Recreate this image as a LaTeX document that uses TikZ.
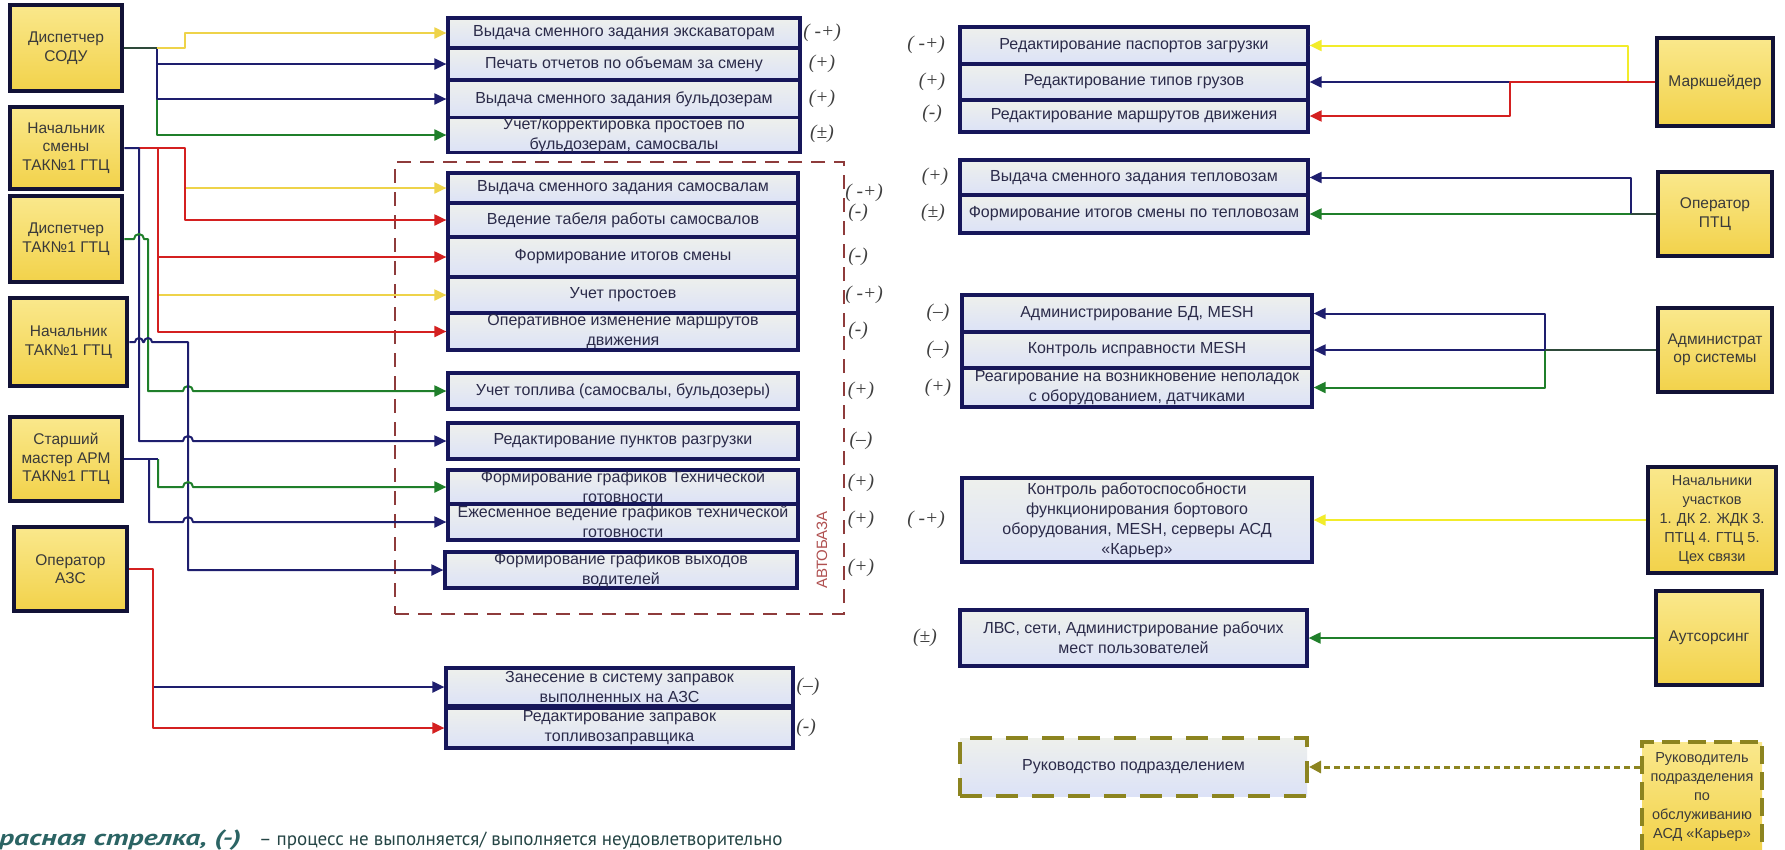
\documentclass[tikz,border=0pt]{standalone}
\usepackage{fontspec}
\setmainfont{Liberation Sans}
\newfontfamily\labfont{Liberation Serif}
\newfontfamily\legfont{PT Sans}
\usetikzlibrary{arrows.meta}
\definecolor{cnavy}{HTML}{1E1E6E}
\definecolor{cred}{HTML}{D42020}
\definecolor{cgreen}{HTML}{1F7F2A}
\definecolor{cyel}{HTML}{EED34A}
\definecolor{cyelb}{HTML}{F2EC2A}
\definecolor{ctrunk}{HTML}{2E4A3A}
\definecolor{cbox}{HTML}{DCE2F7}
\definecolor{cboxt}{HTML}{EEF0EC}
\definecolor{cboxb}{HTML}{16165A}
\definecolor{cact}{HTML}{F2D24A}
\definecolor{cactt}{HTML}{FAE88C}
\definecolor{cactb}{HTML}{121236}
\definecolor{cacttx}{HTML}{3A3A3A}
\definecolor{ctext}{HTML}{2B2B4A}
\definecolor{cbrown}{HTML}{8E3B3B}
\definecolor{cbrownt}{HTML}{B05050}
\definecolor{colive}{HTML}{8C8420}
\definecolor{cteal}{HTML}{2B6464}
\definecolor{cteal2}{HTML}{254545}
\definecolor{clab}{HTML}{404040}
\tikzset{
  proc/.style={draw=cboxb, line width=3.2pt, top color=cboxt, bottom color=cbox, text=ctext, font=\fontsize{16}{20}\selectfont, align=center, inner sep=0pt},
  actor/.style={draw=cactb, line width=4.5pt, top color=cactt, bottom color=cact, text=cacttx, font=\fontsize{15.5}{18.5}\selectfont, align=center, inner sep=0pt},
  labst/.style={font=\labfont\itshape\fontsize{19.5}{21}\selectfont, text=clab, inner sep=0pt},
  ln/.style={line width=2pt, -{Triangle[length=12pt,width=11pt]}, line join=round},
  seg/.style={line width=2pt, line join=round},
}
\newcommand{\pbox}[6]{\node[proc, minimum width={(#4)-(#2)}, minimum height={(#5)-(#3)}] (#1) at ({((#2)+(#4))/2},{((#3)+(#5))/2}) {#6};}
\newcommand{\abox}[6]{\node[actor, minimum width={(#4)-(#2)}, minimum height={(#5)-(#3)}] (#1) at ({((#2)+(#4))/2},{((#3)+(#5))/2}) {#6};}
\newcommand{\lab}[4]{\node[labst] (#1) at (#2,#3) {#4};}
\begin{document}
\begin{tikzpicture}[x=1pt,y=-1pt]
\useasboundingbox (0,0) rectangle (1785,849);
\fill[white] (0,0) rectangle (1785,849);

% АВТОБАЗА group
\node[draw=cbrown, line width=2.5pt, dash pattern=on 14pt off 9pt, minimum width=449, minimum height=452, inner sep=0pt] (avtobaza) at (619.5,388) {};
\node[rotate=90, text=cbrownt, font=\fontsize{15}{15}\selectfont, inner sep=0pt] (avttext) at (822,550) {АВТОБАЗА};

% left actors
\abox{sodu}{10}{5}{122}{91}{Диспетчер\\СОДУ}
\abox{ns}{10}{107}{122}{189}{Начальник\\смены\\ТАК№1 ГТЦ}
\abox{dt}{10}{196}{122}{282}{Диспетчер\\ТАК№1 ГТЦ}
\abox{nt}{10}{298}{127}{386}{Начальник\\ТАК№1 ГТЦ}
\abox{sm}{10}{417}{122}{501}{Старший\\мастер АРМ\\ТАК№1 ГТЦ}
\abox{azs}{14}{527}{127}{611}{Оператор\\АЗС}

% right actors
\abox{mk}{1657}{38}{1773}{126}{Маркшейдер}
\abox{ptc}{1658}{172}{1772}{256}{Оператор\\ПТЦ}
\abox{adm}{1658}{308}{1772}{392}{Администрат\\ор системы}
\node[actor, font=\fontsize{14.5}{19}\selectfont, minimum width=128, minimum height=106] (nu) at (1712,520) {Начальники\\участков\\1. ДК 2. ЖДК 3.\\ПТЦ 4. ГТЦ 5.\\Цех связи};
\abox{auts}{1656}{591}{1762}{685}{Аутсорсинг}
\node[actor, draw=colive, dash pattern=on 18pt off 8pt, font=\fontsize{14.5}{19}\selectfont, minimum width=120, minimum height=110] (ruk) at (1702,797) {Руководитель\\подразделения\\по\\обслуживанию\\АСД «Карьер»};

% left process boxes
\pbox{A1}{448}{18}{800}{48}{Выдача сменного задания экскаваторам}
\pbox{A2}{448}{48}{800}{80}{Печать отчетов по объемам за смену}
\pbox{A3}{448}{80}{800}{118}{Выдача сменного задания бульдозерам}
\pbox{A4}{448}{118}{800}{152}{Учет/корректировка простоев по\\бульдозерам, самосвалы}
\pbox{B1}{448}{173}{798}{203}{Выдача сменного задания самосвалам}
\pbox{B2}{448}{203}{798}{237}{Ведение табеля работы самосвалов}
\pbox{B3}{448}{237}{798}{277}{Формирование итогов смены}
\pbox{B4}{448}{277}{798}{313}{Учет простоев}
\pbox{B5}{448}{313}{798}{350}{Оперативное изменение маршрутов\\движения}
\pbox{B6}{448}{373}{798}{409}{Учет топлива (самосвалы, бульдозеры)}
\pbox{B7}{448}{423}{798}{459}{Редактирование пунктов разгрузки}
\pbox{B8}{448}{470}{798}{504}{Формирование графиков Технической\\готовности}
\pbox{B9}{448}{504}{798}{540}{Ежесменное ведение графиков технической\\готовности}
\pbox{B10}{445}{552}{797}{588}{Формирование графиков выходов\\водителей}
\pbox{C1}{446}{668}{793}{706}{Занесение в систему заправок\\выполненных на АЗС}
\pbox{C2}{446}{708}{793}{748}{Редактирование заправок\\топливозаправщика}

% right process boxes
\pbox{D1}{960}{27}{1308}{64}{Редактирование паспортов загрузки}
\pbox{D2}{960}{64}{1308}{100}{Редактирование типов грузов}
\pbox{D3}{960}{100}{1308}{132}{Редактирование маршрутов движения}
\pbox{E1}{960}{160}{1308}{195}{Выдача сменного задания тепловозам}
\pbox{E2}{960}{195}{1308}{233}{Формирование итогов смены по тепловозам}
\pbox{F1}{962}{295}{1312}{332}{Администрирование БД, MESH}
\pbox{F2}{962}{332}{1312}{368}{Контроль исправности MESH}
\pbox{F3}{962}{368}{1312}{407}{Реагирование на возникновение неполадок\\с оборудованием, датчиками}
\pbox{G}{962}{478}{1312}{562}{Контроль работоспособности\\функционирования бортового\\оборудования, MESH, серверы АСД\\«Карьер»}
\pbox{H}{960}{610}{1307}{666}{ЛВС, сети, Администрирование рабочих\\мест пользователей}
\node[proc, draw=colive, line width=4pt, dash pattern=on 22pt off 14pt, minimum width=347, minimum height=58] (I) at (1133.5,767) {Руководство подразделением};

% ---- connectors, left ----
\coordinate (s1) at (157,48);
\draw[ln,cgreen] (s1) |- (A4.west);
\draw[ln,cnavy] (s1) |- (A3.west);
\draw[ln,cnavy] (s1) |- (A2.west);
\draw[ln,cyel] (s1) -- (185,48) |- (A1.west);
\draw[seg,ctrunk] (sodu.east) -- (s1);

\coordinate (n1) at (139,148);
\coordinate (n2) at (158,148);
\coordinate (n3) at (185,148);
\draw[ln,cyel] (n3) |- (B1.west);
\draw[ln,cred] (n1) -- (n3) |- (B2.west);
\draw[ln,cyel] (n2) |- (B4.west);
\draw[ln,cred] (n2) |- (B3.west);
\draw[ln,cred] (n2) |- (B5.west);
\draw[ln,cnavy] (ns.east) -- (n1) -- (139,441) -- (183,441) arc[start angle=180,end angle=360,radius=5] -- (B7.west);

\draw[ln,cgreen] (dt.east) -- (134,239) arc[start angle=180,end angle=360,radius=5] -- (148,239) -- (148,391) -- (183,391) arc[start angle=180,end angle=360,radius=5] -- (B6.west);

\draw[ln,cnavy] (nt.east) -- (135,342) arc[start angle=180,end angle=360,radius=4] -- (144,342) arc[start angle=180,end angle=360,radius=4] -- (188,342) -- (188,570) -- (B10.west);

\coordinate (m1) at (149,459);
\coordinate (m2) at (158,459);
\draw[ln,cgreen] (m2) -- (158,487) -- (183,487) arc[start angle=180,end angle=360,radius=5] -- (B8.west);
\draw[ln,cnavy] (m1) -- (149,522) -- (183,522) arc[start angle=180,end angle=360,radius=5] -- (B9.west);
\draw[seg,cnavy] (sm.east) -- (m2);

\coordinate (z1) at (153,569);
\draw[ln,cnavy] (z1) |- (C1.west);
\draw[ln,cred] (azs.east) -- (z1) |- (C2.west);

% ---- connectors, right ----
\coordinate (k1) at (1510,82);
\coordinate (k2) at (1628,82);
\draw[ln,cnavy] (k1) -- (D2.east);
\draw[ln,cyelb] (k2) |- (D1.east);
\draw[ln,cred] (mk.west) -- (k1) |- (D3.east);

\coordinate (p1) at (1631,214);
\draw[ln,cgreen] (ptc.west) -- (E2.east);
\draw[ln,cnavy] (p1) |- (E1.east);
\draw[seg,ctrunk] (ptc.west) -- (p1);

\coordinate (q1) at (1545,350);
\draw[ln,cgreen] (q1) |- (F3.east);
\draw[ln,cnavy] (q1) |- (F1.east);
\draw[ln,cnavy] (q1) -- (F2.east);
\draw[seg,ctrunk] (adm.west) -- (q1);

\draw[ln,cyelb] (nu.west) -- (G.east);
\draw[ln,cgreen] (auts.west) -- (H.east);
\draw[line width=3pt, colive, dash pattern=on 6pt off 4pt, -{Triangle[length=12pt,width=12pt]}] (ruk.west |- I.east) -- (I.east);

% ---- labels ----
\lab{la1}{822}{33}{( -+)}
\lab{la2}{822}{64}{(+)}
\lab{la3}{822}{99}{(+)}
\lab{la4}{822}{134}{(±)}
\lab{lb1}{864}{193}{( -+)}
\lab{lb2}{858}{213}{(-)}
\lab{lb3}{858}{257}{(-)}
\lab{lb4}{864}{295}{( -+)}
\lab{lb5}{858}{331}{(-)}
\lab{lb6}{861}{391}{(+)}
\lab{lb7}{861}{441}{(–)}
\lab{lb8}{861}{483}{(+)}
\lab{lb9}{861}{520}{(+)}
\lab{lb10}{861}{568}{(+)}
\lab{lc1}{808}{687}{(–)}
\lab{lc2}{806}{728}{(-)}
\lab{ld1}{926}{45}{( -+)}
\lab{ld2}{932}{82}{(+)}
\lab{ld3}{932}{114}{(-)}
\lab{le1}{935}{177}{(+)}
\lab{le2}{933}{213}{(±)}
\lab{lf1}{938}{313}{(–)}
\lab{lf2}{938}{350}{(–)}
\lab{lf3}{938}{388}{(+)}
\lab{lg}{926}{520}{( -+)}
\lab{lh}{925}{638}{(±)}

% legend
\node[anchor=base west, inner sep=0pt, text=cteal, font=\legfont\fontsize{19}{22}\selectfont] (legend) at (-1,845) {\scalebox{1.35}[1]{\fontsize{22}{22}\selectfont\textbf{\textit{расная стрелка, (-)}}}\hspace{18pt}\textcolor{cteal2}{– процесс не выполняется/ выполняется неудовлетворительно}};
\end{tikzpicture}
\end{document}
